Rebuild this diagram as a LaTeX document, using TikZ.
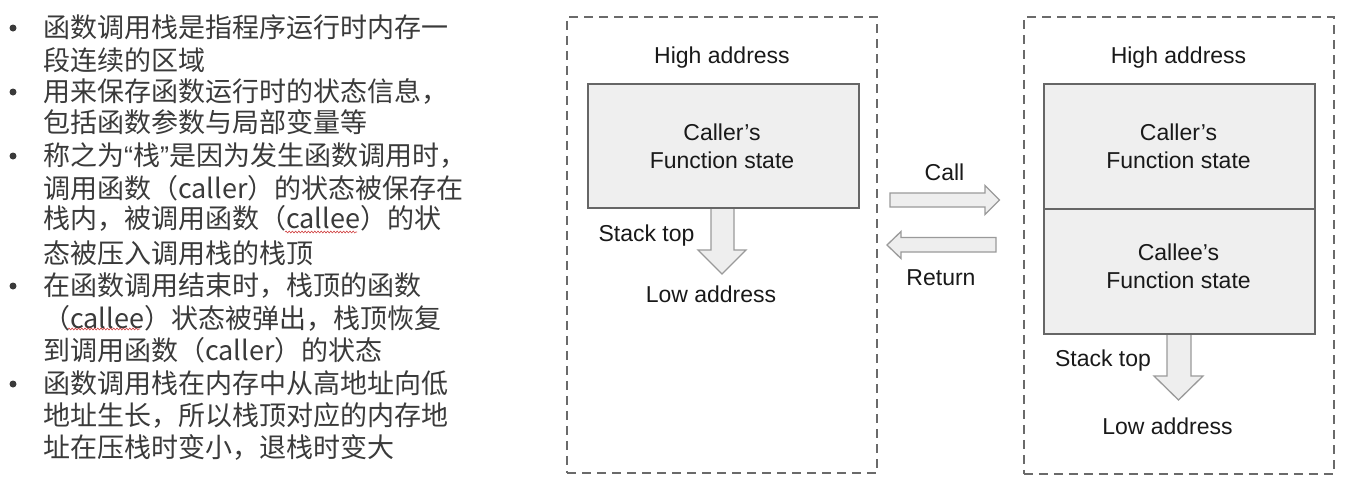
\documentclass[tikz,border=0pt]{standalone}
\usepackage{fontspec}
\setmainfont{Liberation Sans}
\newfontfamily\cjk{Noto Sans CJK SC}
\newfontfamily\quotefont{Liberation Sans}
\usetikzlibrary{decorations.pathmorphing}
\definecolor{textgray}{HTML}{3A3A3A}
\definecolor{dashgray}{HTML}{6A6A6A}
\definecolor{boxgray}{HTML}{666666}
\definecolor{boxfill}{HTML}{EFEFEF}
\definecolor{arrowgray}{HTML}{9A9A9A}
\definecolor{arrowfill}{HTML}{EEEEEE}
\definecolor{wavered}{HTML}{D04040}
\begin{document}
\begin{tikzpicture}[x=1pt,y=-1pt,
  cjkline/.style={anchor=base west, inner sep=0pt, font=\cjk\fontsize{27}{32}\selectfont, text=textgray},
  lbl/.style={anchor=base, inner sep=0pt, font=\fontsize{23}{28}\selectfont, text=black!90},
  frame/.style={draw=dashgray, line width=1.8pt, dash pattern=on 9pt off 6pt, minimum width=310pt, anchor=north west, inner sep=0pt},
  statebox/.style={draw=boxgray, line width=1.6pt, fill=boxfill, minimum width=271pt, anchor=north west, inner sep=0pt},
  blockarrow/.style={draw=arrowgray, line width=1.3pt, fill=arrowfill, line join=miter},
  bulletdot/.style={circle, fill=textgray, inner sep=0pt, minimum size=7pt},
  spellwave/.style={draw=wavered, line width=0.6pt, decorate, decoration={snake, amplitude=0.9pt, segment length=3.2pt}}]
\useasboundingbox (0,0) rectangle (1353,491);

% ---------- left text ----------
\node[bulletdot] (b1) at (13,28) {};
\node[bulletdot] (b2) at (13,92) {};
\node[bulletdot] (b3) at (13,156) {};
\node[bulletdot] (b4) at (13,286) {};
\node[bulletdot] (b5) at (13,384) {};

\node[cjkline] (t0)  at (43,37.3)  {函数调用栈是指程序运行时内存一};
\node[cjkline] (t1)  at (43,70.3)  {段连续的区域};
\node[cjkline] (t2)  at (43,101.3) {用来保存函数运行时的状态信息，};
\node[cjkline] (t3)  at (43,132.3) {包括函数参数与局部变量等};
\node[cjkline] (t4)  at (43,165.3) {称之为{\quotefont“}栈{\quotefont”}是因为发生函数调用时，};
\node[cjkline] (t5)  at (43,198.3) {调用函数（caller）的状态被保存在};
\node[cjkline] (t6)  at (43,228.3) {栈内，被调用函数（callee）的状};
\node[cjkline] (t7)  at (43,263.3) {态被压入调用栈的栈顶};
\node[cjkline] (t8)  at (43,295.3) {在函数调用结束时，栈顶的函数};
\node[cjkline] (t9)  at (43,328.3) {（callee）状态被弹出，栈顶恢复};
\node[cjkline] (t10) at (43,360.3) {到调用函数（caller）的状态};
\node[cjkline] (t11) at (43,393.3) {函数调用栈在内存中从高地址向低};
\node[cjkline] (t12) at (43,425.3) {地址生长，所以栈顶对应的内存地};
\node[cjkline] (t13) at (43,457.3) {址在压栈时变小，退栈时变大};

\coordinate (w1a) at (285,232);
\coordinate (w1b) at (357,232);
\coordinate (w2a) at (68,329);
\coordinate (w2b) at (140,329);
\draw[spellwave] (w1a) -- (w1b);
\draw[spellwave] (w2a) -- (w2b);

% ---------- left stack ----------
\node[frame, minimum height=456pt] (frameA) at (566,16) {};
\draw[blockarrow] (711,207) -- (711,250) -- (698,250) -- (722,274) -- (746,250) -- (734,250) -- (734,207);
\node[statebox, minimum height=124pt] (callerA) at (587,83) {};
\node[lbl] (hiA) at (722,63) {High address};
\node[lbl] (cA1) at (722,140) {Caller’s};
\node[lbl] (cA2) at (722,168) {Function state};
\node[lbl] (stA) at (646.5,241.5) {Stack top};
\node[lbl] (loA) at (711,302.5) {Low address};

% ---------- call / return ----------
\draw[blockarrow] (890,193) -- (985,193) -- (985,185.5) -- (999.5,200) -- (985,214.5) -- (985,207) -- (890,207) -- cycle;
\draw[blockarrow] (996,237.5) -- (901,237.5) -- (901,231.5) -- (887,245) -- (901,258.5) -- (901,252) -- (996,252) -- cycle;
\node[lbl] (call) at (944.5,180.5) {Call};
\node[lbl] (ret) at (941,285.5) {Return};

% ---------- right stack ----------
\node[frame, minimum height=457pt] (frameB) at (1023,16) {};
\draw[blockarrow] (1167,333) -- (1167,376) -- (1154,376) -- (1178.5,400) -- (1203,376) -- (1191,376) -- (1191,333);
\node[statebox, minimum height=125pt] (callerB) at (1043,83) {};
\node[statebox, minimum height=125pt] (calleeB) at (1043,208) {};
\node[lbl] (hiB) at (1178.5,63) {High address};
\node[lbl] (cB1) at (1178.5,140) {Caller’s};
\node[lbl] (cB2) at (1178.5,168) {Function state};
\node[lbl] (eB1) at (1178.5,260.5) {Callee’s};
\node[lbl] (eB2) at (1178.5,288.5) {Function state};
\node[lbl] (stB) at (1103,366) {Stack top};
\node[lbl] (loB) at (1167.5,434) {Low address};
\end{tikzpicture}
\end{document}
